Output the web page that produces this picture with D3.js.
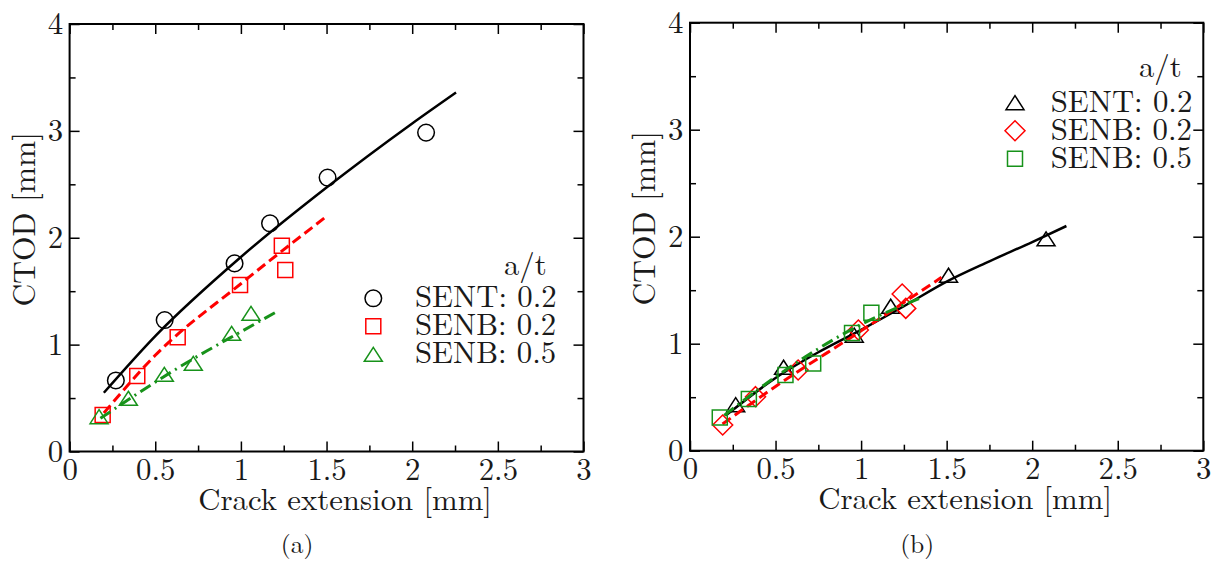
<!DOCTYPE html>
<html>
<head>
<meta charset="utf-8">
<script src="https://cdn.jsdelivr.net/npm/d3@7"></script>
<style>
  body { margin: 0; background: #fff; }
</style>
</head>
<body>
<div id="chart"></div>
<script>
// ticks shared by both panels
let xTicks = [0, 0.5, 1, 1.5, 2, 2.5, 3];
let xMinor = [0.25, 0.75, 1.25, 1.75, 2.25, 2.75];
let yTicks = [0, 1, 2, 3, 4];
let yMinor = [0.5, 1.5, 2.5, 3.5];

let legendTitle = "a/t";
let seriesNames = ["SENT: 0.2", "SENB: 0.2", "SENB: 0.5"];

// panel (a) - measured points
let aSentX = [0.27, 0.555, 0.963, 1.17, 1.506, 2.081];
let aSentY = [0.665, 1.23, 1.76, 2.135, 2.563, 2.984];
let aSenb2X = [0.193, 0.395, 0.631, 0.995, 1.239, 1.259];
let aSenb2Y = [0.341, 0.706, 1.068, 1.557, 1.925, 1.698];
let aSenb5X = [0.172, 0.343, 0.553, 0.722, 0.946, 1.059];
let aSenb5Y = [0.326, 0.498, 0.722, 0.825, 1.106, 1.293];

// panel (a) - fitted curves
let aSentFitX = [0.2, 0.5, 1.0, 1.5, 2.0, 2.256];
let aSentFitY = [0.55, 1.08, 1.82, 2.47, 3.07, 3.36];
let aSenb2FitX = [0.2, 0.5, 1.0, 1.5];
let aSenb2FitY = [0.36, 0.9, 1.57, 2.2];
let aSenb5FitX = [0.18, 0.4, 0.6, 0.8, 1.0, 1.2];
let aSenb5FitY = [0.31, 0.545, 0.75, 0.94, 1.12, 1.3];

// panel (b) - measured points
let bSentX = [0.267, 0.547, 0.96, 1.173, 1.511, 2.081];
let bSentY = [0.43, 0.78, 1.08, 1.35, 1.64, 1.98];
let bSenb2X = [0.191, 0.383, 0.632, 0.984, 1.24, 1.261];
let bSenb2Y = [0.24, 0.505, 0.754, 1.128, 1.464, 1.33];
let bSenb5X = [0.174, 0.344, 0.558, 0.72, 0.947, 1.06];
let bSenb5Y = [0.31, 0.483, 0.707, 0.816, 1.1, 1.29];

// panel (b) - fitted curves
let bSentFitX = [0.21, 0.5, 0.75, 1.0, 1.25, 1.5, 1.75, 2.0, 2.2];
let bSentFitY = [0.33, 0.68, 0.92, 1.13, 1.35, 1.58, 1.77, 1.95, 2.1];
let bSenb2FitX = [0.19, 0.5, 1.0, 1.47];
let bSenb2FitY = [0.25, 0.6, 1.12, 1.62];
let bSenb5FitX = [0.2, 0.5, 1.0, 1.35];
let bSenb5FitY = [0.33, 0.69, 1.18, 1.43];

let black = "#000000", red = "#ff0000", green = "#17921a";
let solid = null, dashed = "10,5", dashDot = "12,5,2,5";
let font = "'Latin Modern Roman', 'Liberation Serif', serif";
let textColor = "#1a1a1a";

let svg = d3.select("#chart").append("svg")
    .attr("width", 1223)
    .attr("height", 565);

function zip(xs, ys) {
    return xs.map(function(d, i) { return [d, ys[i]]; });
}

// marker outlines, centred on 0,0
function markerPath(type) {
    if (type == "circle") return d3.arc()({innerRadius: 0, outerRadius: 8.3, startAngle: 0, endAngle: 2 * Math.PI});
    if (type == "square") return "M-7.5,-7.5H7.5V7.5H-7.5Z";
    if (type == "diamond") return "M0,-10L10,0L0,10L-10,0Z";
    return "M0,-7L9,7L-9,7Z"; // triangle
}

function addText(parent, size) {
    return parent.append("text")
        .style("font-family", font)
        .attr("font-size", size)
        .attr("fill", textColor);
}

function drawPanel(p) {
    let g = svg.append("g")
        .attr("transform", "translate(" + p.left + "," + p.top + ")");

    let x = d3.scaleLinear().domain([0, 3]).range([0, p.width]);
    let y = d3.scaleLinear().domain([0, 4]).range([p.height, 0]);

    // ticks on all four sides, pointing inward
    let axes = [
        [d3.axisBottom(x), "translate(0," + p.height + ")", xTicks, xMinor, true, 6.8],
        [d3.axisTop(x), "translate(0,0)", xTicks, xMinor, false, 0],
        [d3.axisLeft(y), "translate(0,0)", yTicks, yMinor, true, 6.5],
        [d3.axisRight(y), "translate(" + p.width + ",0)", yTicks, yMinor, false, 0]
    ];
    axes.forEach(function(a) {
        let minor = g.append("g").attr("transform", a[1])
            .call(a[0].tickValues(a[3]).tickSize(-6).tickFormat(""));
        minor.select(".domain").remove();
        minor.selectAll("line").attr("stroke-width", 1.5);

        let major = g.append("g").attr("transform", a[1])
            .call(a[0].tickValues(a[2]).tickSize(-10).tickPadding(a[5])
                .tickFormat(a[4] ? d3.format("") : ""));
        major.select(".domain").remove();
        major.selectAll("line").attr("stroke-width", 1.5);
        major.selectAll("text")
            .style("font-family", font)
            .attr("font-size", 30.8)
            .attr("fill", textColor);
    });

    // frame
    g.append("rect")
        .attr("width", p.width)
        .attr("height", p.height)
        .attr("fill", "none")
        .attr("stroke", "#000")
        .attr("stroke-width", 2);

    let line = d3.line()
        .x(function(d) { return x(d[0]); })
        .y(function(d) { return y(d[1]); })
        .curve(d3.curveMonotoneX);

    p.series.forEach(function(s) {
        g.append("path")
            .datum(s.fit)
            .attr("fill", "none")
            .attr("stroke", s.color)
            .attr("stroke-width", s.dash ? 3 : 2.5)
            .attr("stroke-dasharray", s.dash)
            .attr("d", line);

        g.selectAll(null)
            .data(s.points)
            .enter()
            .append("path")
            .attr("transform", function(d) { return "translate(" + x(d[0]) + "," + y(d[1]) + ")"; })
            .attr("d", markerPath(s.marker))
            .attr("fill", "none")
            .attr("stroke", s.color)
            .attr("stroke-width", 1.5);
    });

    // legend
    let lg = g.append("g");
    addText(lg, 30.8)
        .attr("x", p.legend.titleX)
        .attr("y", p.legend.titleY)
        .attr("text-anchor", "end")
        .text(legendTitle);
    p.series.forEach(function(s, i) {
        let by = p.legend.rowY + i * 28;
        lg.append("path")
            .attr("transform", "translate(" + p.legend.symX + "," + (by - 9) + ")")
            .attr("d", markerPath(s.marker))
            .attr("fill", "none")
            .attr("stroke", s.color)
            .attr("stroke-width", 1.5);
        addText(lg, 30.8)
            .attr("x", p.legend.textX)
            .attr("y", by)
            .text(seriesNames[i]);
    });

    // axis titles
    addText(g, 30.8)
        .attr("x", p.width / 2 + 18.5)
        .attr("y", p.height + 58.5)
        .attr("text-anchor", "middle")
        .text("Crack extension [mm]");

    addText(g, 31.5)
        .attr("transform", "translate(-35," + (p.height / 2 - 18.5) + ") rotate(-90)")
        .attr("text-anchor", "middle")
        .text("CTOD [mm]");

    // sub caption
    addText(g, 25.5)
        .attr("x", p.width / 2 - 29.5)
        .attr("y", 553.3 - p.top)
        .attr("text-anchor", "middle")
        .text(p.caption);
}

drawPanel({
    left: 69.6, top: 24, width: 513.9, height: 427.5, caption: "(a)",
    legend: {symX: 303.7, textX: 345.4, titleX: 477.1, titleY: 251, rowY: 283.3},
    series: [
        {points: zip(aSentX, aSentY), fit: zip(aSentFitX, aSentFitY), color: black, dash: solid, marker: "circle"},
        {points: zip(aSenb2X, aSenb2Y), fit: zip(aSenb2FitX, aSenb2FitY), color: red, dash: dashed, marker: "square"},
        {points: zip(aSenb5X, aSenb5Y), fit: zip(aSenb5FitX, aSenb5FitY), color: green, dash: dashDot, marker: "triangle"}
    ]
});

drawPanel({
    left: 690, top: 22.7, width: 513.3, height: 428, caption: "(b)",
    legend: {symX: 325, textX: 360.7, titleX: 491.7, titleY: 54, rowY: 89},
    series: [
        {points: zip(bSentX, bSentY), fit: zip(bSentFitX, bSentFitY), color: black, dash: solid, marker: "triangle"},
        {points: zip(bSenb2X, bSenb2Y), fit: zip(bSenb2FitX, bSenb2FitY), color: red, dash: dashed, marker: "diamond"},
        {points: zip(bSenb5X, bSenb5Y), fit: zip(bSenb5FitX, bSenb5FitY), color: green, dash: dashDot, marker: "square"}
    ]
});
</script>
</body>
</html>
